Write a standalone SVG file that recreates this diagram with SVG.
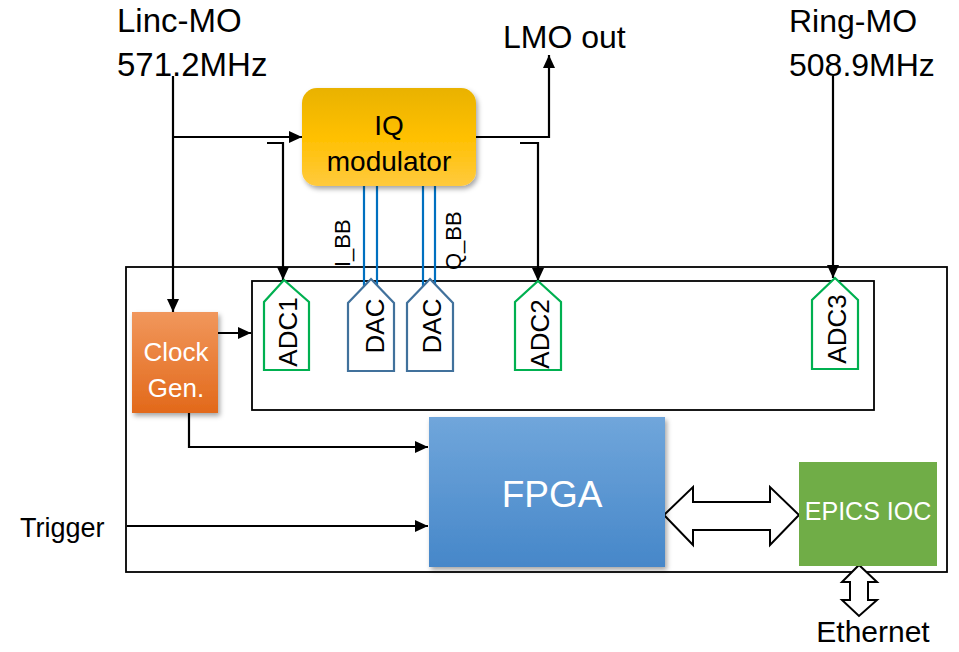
<svg xmlns="http://www.w3.org/2000/svg" width="959" height="652" viewBox="0 0 959 652">
<defs>
<style>
.t{font-family:"Liberation Sans",Arial,sans-serif;fill:#000}
.w{fill:#fff}
.ln{fill:none;stroke:#000;stroke-width:2.2}
.bb{fill:none;stroke:#0070C0;stroke-width:2.2}
.adc{fill:#fff;stroke:#00B050;stroke-width:2.2}
.dac{fill:#fff;stroke:#41719C;stroke-width:2.2}
.box{fill:none;stroke:#000;stroke-width:1.8}
.dbl{fill:#fff;stroke:#000;stroke-width:2}
</style>
<marker id="ah" viewBox="0 0 13 12" refX="13" refY="6" markerWidth="13" markerHeight="12" markerUnits="userSpaceOnUse" orient="auto">
<path d="M0,0 L13,6 L0,12 z" fill="#000"/>
</marker>
<linearGradient id="gIQ" x1="0" y1="0" x2="0" y2="1">
<stop offset="0" stop-color="#E9B200"/><stop offset="0.5" stop-color="#FFC000"/><stop offset="1" stop-color="#FFCA3E"/>
</linearGradient>
<linearGradient id="gCK" x1="0" y1="0" x2="0" y2="1">
<stop offset="0" stop-color="#F1975C"/><stop offset="1" stop-color="#E2691A"/>
</linearGradient>
<linearGradient id="gFP" x1="0" y1="0" x2="0" y2="1">
<stop offset="0" stop-color="#70A6DB"/><stop offset="1" stop-color="#4687C9"/>
</linearGradient>
<filter id="sh" x="-10%" y="-10%" width="130%" height="130%">
<feDropShadow dx="2" dy="3" stdDeviation="2.5" flood-color="#000" flood-opacity="0.35"/>
</filter>
</defs>
<rect width="959" height="652" fill="#fff"/>

<g id="board">
<rect class="box" x="126" y="267" width="821" height="305"/>
<rect class="box" x="252" y="281" width="622" height="129"/>
</g>

<g id="labels">
<text class="t" x="117" y="32" font-size="33">Linc-MO</text>
<text class="t" x="117" y="76" font-size="33">571.2MHz</text>
<text class="t" x="503" y="48" font-size="32">LMO out</text>
<text class="t" x="789" y="32" font-size="32">Ring-MO</text>
<text class="t" x="789" y="76" font-size="32">508.9MHz</text>
<text class="t" x="20" y="537" font-size="27">Trigger</text>
<text class="t" x="873" y="642" font-size="30" text-anchor="middle">Ethernet</text>
<text class="t" x="350" y="267" font-size="22" transform="rotate(-90 350 267)">I_BB</text>
<text class="t" x="461" y="270" font-size="22" transform="rotate(-90 461 270)">Q_BB</text>
</g>

<g id="connectors">
<path class="ln" d="M173,76 V312" marker-end="url(#ah)"/>
<path class="ln" d="M173,137 H302" marker-end="url(#ah)"/>
<path class="ln" d="M267,143 H283 V280" marker-end="url(#ah)"/>
<path class="ln" d="M476,137 H549 V55" marker-end="url(#ah)"/>
<path class="ln" d="M520,143 H538 V281" marker-end="url(#ah)"/>
<path class="ln" d="M833,76 V278" marker-end="url(#ah)"/>
<path class="ln" d="M218,333 H251" marker-end="url(#ah)"/>
<path class="ln" d="M189,413 V447 H428" marker-end="url(#ah)"/>
<path class="ln" d="M127,526 H428" marker-end="url(#ah)"/>
<path class="bb" d="M364,186 V286 M377,186 V285 M423,186 V286 M435,186 V284"/>
<polygon class="dbl" points="664,515 693,487 693,502 770,502 770,487 799,515 770,545 770,530 693,530 693,545"/>
<polygon class="dbl" points="859,565 877,582 868,582 868,600 877,600 859,616 842,600 850,600 850,582 842,582"/>
</g>

<g id="iq-modulator">
<rect x="302" y="88" width="174" height="98" rx="15" fill="url(#gIQ)" filter="url(#sh)"/>
<text class="t" x="389" y="135" font-size="28" text-anchor="middle">IQ</text>
<text class="t" x="389" y="171" font-size="28" text-anchor="middle">modulator</text>
</g>

<g id="clock-gen">
<rect x="132" y="312" width="86" height="101" fill="url(#gCK)" filter="url(#sh)"/>
<text class="t w" x="176" y="361" font-size="26" text-anchor="middle">Clock</text>
<text class="t w" x="176" y="397" font-size="26" text-anchor="middle">Gen.</text>
</g>

<g id="adc1">
<polygon class="adc" points="284,280 309,302 309,370 264,370 264,302"/>
<text class="t" x="288" y="332" font-size="26" text-anchor="middle" dy="0.35em" transform="rotate(-90 288 332)">ADC1</text>
</g>
<g id="dac1">
<polygon class="dac" points="371,279 394,303 394,371 348,371 348,303"/>
<text class="t" x="375" y="326" font-size="26" text-anchor="middle" dy="0.35em" transform="rotate(-90 375 326)">DAC</text>
</g>
<g id="dac2">
<polygon class="dac" points="430,279 453,303 453,371 407,371 407,303"/>
<text class="t" x="432" y="326" font-size="26" text-anchor="middle" dy="0.35em" transform="rotate(-90 432 326)">DAC</text>
</g>
<g id="adc2">
<polygon class="adc" points="538,281 561,302 561,370 515,370 515,302"/>
<text class="t" x="540" y="334" font-size="26" text-anchor="middle" dy="0.35em" transform="rotate(-90 540 334)">ADC2</text>
</g>
<g id="adc3">
<polygon class="adc" points="835,278 858,300 858,369 812,369 812,300"/>
<text class="t" x="837" y="329" font-size="26" text-anchor="middle" dy="0.35em" transform="rotate(-90 837 329)">ADC3</text>
</g>

<g id="fpga">
<rect x="429" y="417" width="236" height="150" fill="url(#gFP)" filter="url(#sh)"/>
<text class="t w" x="552" y="507" font-size="37" text-anchor="middle">FPGA</text>
</g>

<g id="epics-ioc">
<rect x="799" y="462" width="138" height="104" fill="#70AD47"/>
<text class="t w" x="868" y="520" font-size="25" text-anchor="middle">EPICS IOC</text>
</g>
</svg>
